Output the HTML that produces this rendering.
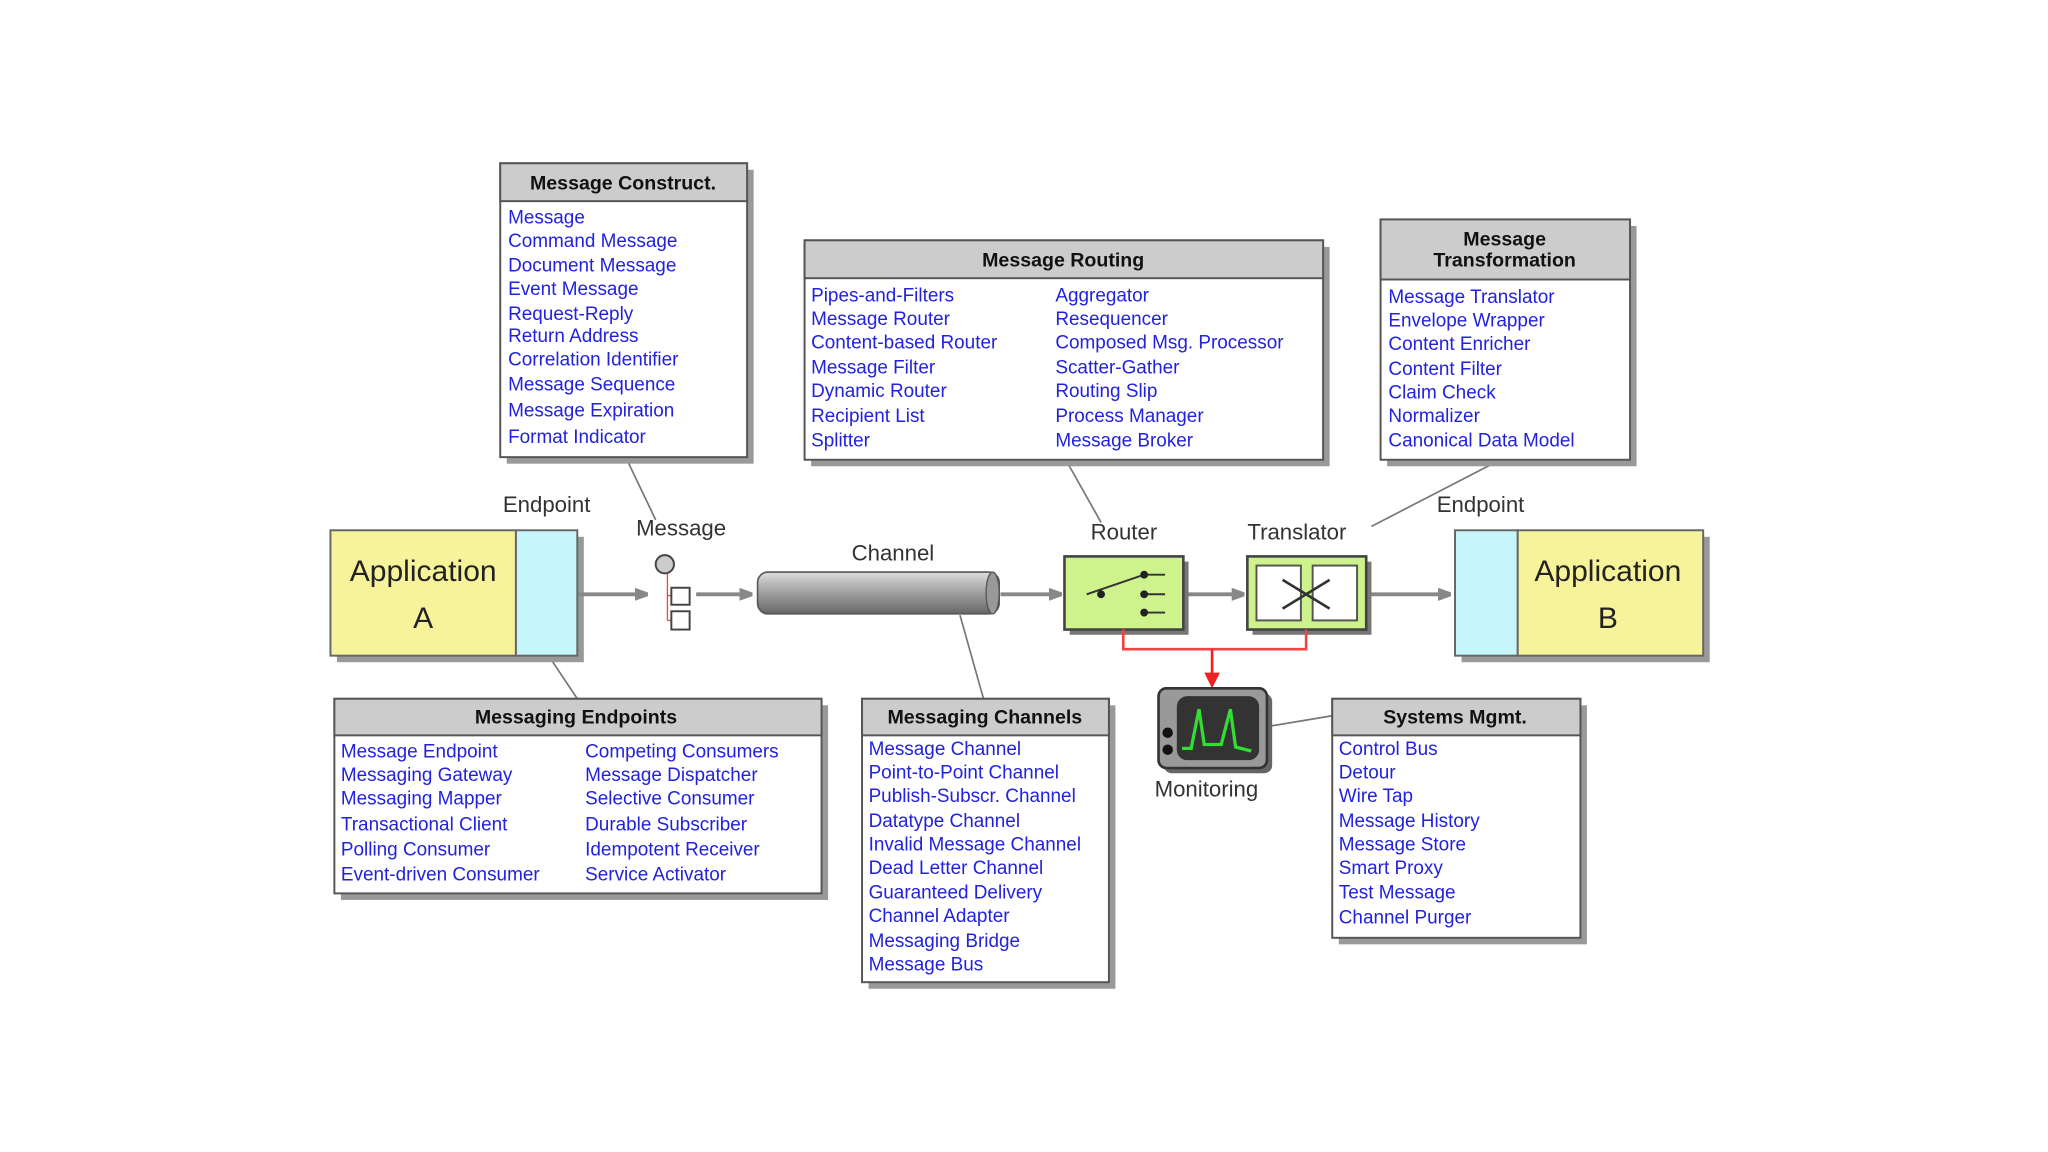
<!DOCTYPE html>
<html><head><meta charset="utf-8"><style>
html,body{margin:0;padding:0;background:#fff;}
svg{display:block;}
.h{font:bold 15px "Liberation Sans",Arial,sans-serif;fill:#111;}
.i{font:14.5px "Liberation Sans",Arial,sans-serif;fill:#2222dd;}
.l{font:17px "Liberation Sans",Arial,sans-serif;fill:#333;}
.a{font:23px "Liberation Sans",Arial,sans-serif;fill:#222;}
</style></head><body>
<svg width="2048" height="1152" viewBox="0 0 1568 882" xmlns="http://www.w3.org/2000/svg">
<defs>
<marker id="ar" markerWidth="10" markerHeight="10" refX="9" refY="5" orient="auto" markerUnits="userSpaceOnUse"><path d="M0,0 L14,5 L0,10 z" fill="#888"/></marker>
<marker id="rr" markerWidth="12" markerHeight="12" refX="10" refY="6" orient="auto" markerUnits="userSpaceOnUse"><path d="M0,0 L12,6 L0,12 z" fill="#e22"/></marker>
<linearGradient id="cyl" x1="0" y1="0" x2="0" y2="1"><stop offset="0" stop-color="#ddd"/><stop offset="0.4" stop-color="#aaa"/><stop offset="1" stop-color="#666"/></linearGradient>
</defs>
<!-- connector lines -->
<g stroke="#777" stroke-width="1.3" fill="none">
<line x1="480" y1="352" x2="502" y2="398"/>
<line x1="816" y1="352" x2="843" y2="400"/>
<line x1="1143" y1="355" x2="1050" y2="403"/>
<line x1="420" y1="502" x2="442" y2="535"/>
<line x1="735" y1="471" x2="753" y2="535"/>
<line x1="972" y1="556" x2="1020" y2="548"/>
</g>
<!-- boxes: shadow, body, header -->
<g stroke="#555" stroke-width="1.5">
<rect x="388" y="130" width="189" height="225" fill="#999" stroke="none"/>
<rect x="383" y="125" width="189" height="225" fill="#fff"/>
<rect x="383" y="125" width="189" height="29" fill="#ccc"/>
<rect x="621" y="189" width="397" height="168" fill="#999" stroke="none"/>
<rect x="616" y="184" width="397" height="168" fill="#fff"/>
<rect x="616" y="184" width="397" height="29" fill="#ccc"/>
<rect x="1062" y="173" width="191" height="184" fill="#999" stroke="none"/>
<rect x="1057" y="168" width="191" height="184" fill="#fff"/>
<rect x="1057" y="168" width="191" height="46" fill="#ccc"/>
<rect x="261" y="540" width="373" height="149" fill="#999" stroke="none"/>
<rect x="256" y="535" width="373" height="149" fill="#fff"/>
<rect x="256" y="535" width="373" height="28" fill="#ccc"/>
<rect x="665" y="540" width="189" height="217" fill="#999" stroke="none"/>
<rect x="660" y="535" width="189" height="217" fill="#fff"/>
<rect x="660" y="535" width="189" height="28" fill="#ccc"/>
<rect x="1025" y="540" width="190" height="183" fill="#999" stroke="none"/>
<rect x="1020" y="535" width="190" height="183" fill="#fff"/>
<rect x="1020" y="535" width="190" height="28" fill="#ccc"/>
</g>
<text class="h" x="477" y="145" text-anchor="middle">Message Construct.</text>
<text class="h" x="814" y="204" text-anchor="middle">Message Routing</text>
<text class="h" x="1152" y="188" text-anchor="middle">Message</text>
<text class="h" x="1152" y="204" text-anchor="middle">Transformation</text>
<text class="h" x="441" y="554" text-anchor="middle">Messaging Endpoints</text>
<text class="h" x="754" y="554" text-anchor="middle">Messaging Channels</text>
<text class="h" x="1114" y="554" text-anchor="middle">Systems Mgmt.</text>
<g class="i">
<text x="389" y="171">Message</text><text x="389" y="189">Command Message</text><text x="389" y="208">Document Message</text><text x="389" y="226">Event Message</text><text x="389" y="245">Request-Reply</text><text x="389" y="262">Return Address</text><text x="389" y="280">Correlation Identifier</text><text x="389" y="299">Message Sequence</text><text x="389" y="319">Message Expiration</text><text x="389" y="339">Format Indicator</text>
<text x="621" y="231">Pipes-and-Filters</text><text x="621" y="249">Message Router</text><text x="621" y="267">Content-based Router</text><text x="621" y="286">Message Filter</text><text x="621" y="304">Dynamic Router</text><text x="621" y="323">Recipient List</text><text x="621" y="342">Splitter</text>
<text x="808" y="231">Aggregator</text><text x="808" y="249">Resequencer</text><text x="808" y="267">Composed Msg. Processor</text><text x="808" y="286">Scatter-Gather</text><text x="808" y="304">Routing Slip</text><text x="808" y="323">Process Manager</text><text x="808" y="342">Message Broker</text>
<text x="1063" y="232">Message Translator</text><text x="1063" y="250">Envelope Wrapper</text><text x="1063" y="268">Content Enricher</text><text x="1063" y="287">Content Filter</text><text x="1063" y="305">Claim Check</text><text x="1063" y="323">Normalizer</text><text x="1063" y="342">Canonical Data Model</text>
<text x="261" y="580">Message Endpoint</text><text x="261" y="598">Messaging Gateway</text><text x="261" y="616">Messaging Mapper</text><text x="261" y="636">Transactional Client</text><text x="261" y="655">Polling Consumer</text><text x="261" y="674">Event-driven Consumer</text>
<text x="448" y="580">Competing Consumers</text><text x="448" y="598">Message Dispatcher</text><text x="448" y="616">Selective Consumer</text><text x="448" y="636">Durable Subscriber</text><text x="448" y="655">Idempotent Receiver</text><text x="448" y="674">Service Activator</text>
<text x="665" y="578">Message Channel</text><text x="665" y="596">Point-to-Point Channel</text><text x="665" y="614">Publish-Subscr. Channel</text><text x="665" y="633">Datatype Channel</text><text x="665" y="651">Invalid Message Channel</text><text x="665" y="669">Dead Letter Channel</text><text x="665" y="688">Guaranteed Delivery</text><text x="665" y="706">Channel Adapter</text><text x="665" y="725">Messaging Bridge</text><text x="665" y="743">Message Bus</text>
<text x="1025" y="578">Control Bus</text><text x="1025" y="596">Detour</text><text x="1025" y="614">Wire Tap</text><text x="1025" y="633">Message History</text><text x="1025" y="651">Message Store</text><text x="1025" y="669">Smart Proxy</text><text x="1025" y="688">Test Message</text><text x="1025" y="707">Channel Purger</text>
</g>
<!-- applications -->
<rect x="258" y="411" width="189" height="96" fill="#999"/>
<rect x="253" y="406" width="142" height="96" fill="#f7f39a" stroke="#666" stroke-width="1.5"/>
<rect x="395" y="406" width="47" height="96" fill="#c6f6fa" stroke="#666" stroke-width="1.5"/>
<text class="a" x="324" y="445" text-anchor="middle">Application</text>
<text class="a" x="324" y="481" text-anchor="middle">A</text>
<rect x="1119" y="411" width="190" height="96" fill="#999"/>
<rect x="1114" y="406" width="48" height="96" fill="#c6f6fa" stroke="#666" stroke-width="1.5"/>
<rect x="1162" y="406" width="142" height="96" fill="#f7f39a" stroke="#666" stroke-width="1.5"/>
<text class="a" x="1231" y="445" text-anchor="middle">Application</text>
<text class="a" x="1231" y="481" text-anchor="middle">B</text>
<!-- labels -->
<text class="l" x="385" y="392">Endpoint</text>
<text class="l" x="1100" y="392">Endpoint</text>
<text class="l" x="487" y="410">Message</text>
<text class="l" x="652" y="429">Channel</text>
<text class="l" x="835" y="413">Router</text>
<text class="l" x="955" y="413">Translator</text>
<text class="l" x="884" y="610">Monitoring</text>
<!-- arrows -->
<g stroke="#888" stroke-width="3" marker-end="url(#ar)">
<line x1="443" y1="455" x2="495" y2="455"/>
<line x1="533" y1="455" x2="575" y2="455"/>
<line x1="766" y1="455" x2="812" y2="455"/>
<line x1="907" y1="455" x2="952" y2="455"/>
<line x1="1047" y1="455" x2="1110" y2="455"/>
</g>
<!-- message icon -->
<circle cx="509" cy="432" r="7" fill="#ccc" stroke="#444" stroke-width="1.5"/>
<path d="M511 439 V475 M511 456 H514 M511 475 H514" stroke="#e44" stroke-width="1" fill="none"/>
<rect x="514" y="450" width="14" height="13" fill="#fff" stroke="#444" stroke-width="1.5"/>
<rect x="514" y="468" width="14" height="14" fill="#fff" stroke="#444" stroke-width="1.5"/>
<!-- channel -->
<rect x="580" y="438" width="185" height="32" rx="8" fill="url(#cyl)" stroke="#555" stroke-width="1.2"/>
<ellipse cx="760" cy="454" rx="5" ry="16" fill="#999" stroke="#555"/>
<!-- router -->
<rect x="819" y="430" width="91" height="56" fill="#777"/>
<rect x="815" y="426" width="91" height="56" fill="#cef28c" stroke="#444" stroke-width="2"/>
<g stroke="#333" stroke-width="1.5"><line x1="832" y1="455" x2="876" y2="440"/><line x1="876" y1="440" x2="892" y2="440"/><line x1="876" y1="455" x2="892" y2="455"/><line x1="876" y1="469" x2="892" y2="469"/></g>
<g fill="#222"><circle cx="843" cy="455" r="3"/><circle cx="876" cy="440" r="3"/><circle cx="876" cy="455" r="3"/><circle cx="876" cy="469" r="3"/></g>
<!-- translator -->
<rect x="959" y="430" width="91" height="56" fill="#777"/>
<rect x="955" y="426" width="91" height="56" fill="#cef28c" stroke="#444" stroke-width="2"/>
<rect x="962" y="433" width="34" height="42" fill="#fff" stroke="#555" stroke-width="1.5"/>
<rect x="1005" y="433" width="34" height="42" fill="#fff" stroke="#555" stroke-width="1.5"/>
<path d="M982 444 L1018 466 M982 466 L1018 444" stroke="#333" stroke-width="2"/>
<!-- red lines -->
<path d="M860 482 V497 H1000 V482" stroke="#e44" stroke-width="2" fill="none"/>
<line x1="928" y1="497" x2="928" y2="525" stroke="#e22" stroke-width="2" marker-end="url(#rr)"/>
<!-- monitor -->
<rect x="891" y="531" width="83" height="61" rx="6" fill="#666"/>
<rect x="887" y="527" width="83" height="61" rx="6" fill="#999" stroke="#333" stroke-width="2"/>
<rect x="901" y="533" width="63" height="49" rx="8" fill="#333"/>
<path d="M905 573 H912 L918 543 L922 570 L935 570 L942 543 L946 572 L958 575" stroke="#3d3" stroke-width="2.5" fill="none"/>
<circle cx="894" cy="561" r="4" fill="#111"/><circle cx="894" cy="574" r="4" fill="#111"/>
</svg>
</body></html>
